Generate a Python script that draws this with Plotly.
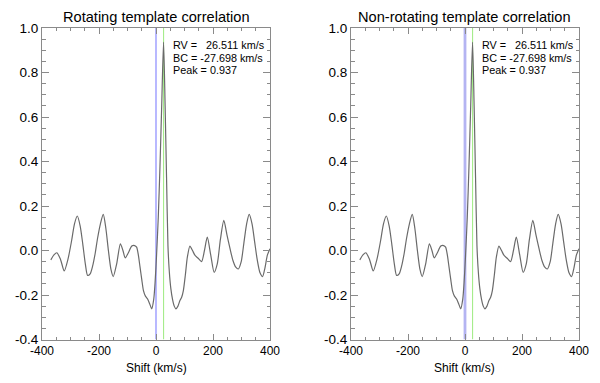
import plotly.graph_objects as go

# ---- data ----
shift_kms = [-369, -358, -348, -335, -322, -309, -296, -286, -276, -266, -257, -248, -240, -231,
             -222, -213, -205, -195, -185, -176, -167, -158, -150, -138, -125, -116, -108, -97,
             -85, -75, -68, -62, -56, -50, -44, -37, -30, -22, -15, -8, -3, 2, 8, 14, 20, 26.5,
             32, 37, 42, 47, 52, 58, 64, 70, 77, 84, 90, 96, 103, 110, 119, 128, 137, 148, 160,
             170, 180, 192, 204, 215, 226, 238, 249, 260, 270, 280, 289, 299, 308, 318, 327, 337,
             346, 355, 365, 374, 382, 391, 400]
corr_rot = [-0.042, -0.02, -0.01, -0.04, -0.092, -0.04, 0.045, 0.12, 0.155, 0.11, 0.03, -0.06,
            -0.112, -0.105, -0.068, -0.01, 0.055, 0.12, 0.162, 0.1, 0.0, -0.085, -0.117, -0.06,
            0.03, 0.0, -0.033, -0.01, 0.02, 0.022, 0.015, -0.02, -0.075, -0.13, -0.18, -0.205,
            -0.217, -0.24, -0.262, -0.22, -0.14, -0.02, 0.15, 0.38, 0.65, 0.937, 0.65, 0.33, 0.02,
            -0.1, -0.17, -0.22, -0.25, -0.262, -0.25, -0.225, -0.21, -0.18, -0.11, -0.03, 0.02,
            0.0, -0.022, -0.035, -0.05, 0.0, 0.06, -0.02, -0.098, -0.06, 0.05, 0.135, 0.07, 0.007,
            -0.045, -0.075, -0.083, -0.05, 0.03, 0.12, 0.162, 0.12, 0.04, -0.04, -0.1, -0.117,
            -0.08, -0.02, 0.008]
corr_nonrot = list(corr_rot)

titles = ["Rotating template correlation", "Non-rotating template correlation"]
rv_value = 26.511
bc_value = -27.698
peak_value = 0.937
zero_shift = 0.0

x_tickvals = [-400, -200, 0, 200, 400]
x_ticktext = ["-400", "-200", "0", "200", "400"]
y_tickvals = [-0.4, -0.2, 0.0, 0.2, 0.4, 0.6, 0.8, 1.0]
y_ticktext = ["-0.4", "-0.2", "0.0", "0.2", "0.4", "0.6", "0.8", "1.0"]

# ---- figure ----
W, H = 600, 383
FONT = "Liberation Sans, Arial, Helvetica, sans-serif"
AXC = "#8a8a8a"

fig = go.Figure()

xdomains = [[42 / W, 270 / W], [351 / W, 579 / W]]
ydomain = [1 - 339.5 / H, 1 - 28 / H]
blue_widths = [1.1, 2.8]
blue_colors = ["#7f7fff", "#b4b4f2"]
series = [corr_rot, corr_nonrot]

for i in range(2):
    xa = "x" if i == 0 else "x2"
    ya = "y" if i == 0 else "y2"
    # vertical reference lines
    fig.add_trace(go.Scatter(x=[zero_shift, zero_shift], y=[-0.4, 1.0], mode="lines",
                             line=dict(color=blue_colors[i], width=blue_widths[i]),
                             xaxis=xa, yaxis=ya, showlegend=False, hoverinfo="skip"))
    fig.add_trace(go.Scatter(x=[rv_value, rv_value], y=[-0.4, 1.0], mode="lines",
                             line=dict(color="#a6ec8c", width=1.1),
                             xaxis=xa, yaxis=ya, showlegend=False, hoverinfo="skip"))
    fig.add_trace(go.Scatter(x=shift_kms, y=series[i], mode="lines",
                             line=dict(color="#6a6a6a", width=1.2, shape="spline", smoothing=0.7),
                             xaxis=xa, yaxis=ya, showlegend=False))

    axkw_common = dict(showline=True, linecolor=AXC, linewidth=1, mirror="ticks",
                       ticks="inside", tickcolor=AXC, showgrid=False, zeroline=False,
                       automargin=False)
    fig.layout["xaxis" if i == 0 else "xaxis2"] = dict(
        domain=xdomains[i], range=[-400, 400], anchor=ya,
        tickmode="array", tickvals=x_tickvals, ticktext=x_ticktext, ticklen=6,
        tickfont=dict(family=FONT, size=12, color="black"),
        minor=dict(dtick=50, tick0=-400, ticklen=3, ticks="inside", tickcolor=AXC),
        **axkw_common)
    fig.layout["yaxis" if i == 0 else "yaxis2"] = dict(
        domain=ydomain, range=[-0.4, 1.0], anchor=xa,
        tickmode="array", tickvals=y_tickvals, ticktext=y_ticktext, ticklen=7,
        tickfont=dict(family=FONT, size=13.5, color="black"),
        minor=dict(dtick=0.05, tick0=-0.4, ticklen=3.5, ticks="inside", tickcolor=AXC),
        **axkw_common)

    # title
    cx = (xdomains[i][0] + xdomains[i][1]) / 2
    fig.add_annotation(text=titles[i], xref="paper", yref="paper", x=cx, y=1 - 17.5 / H,
                       xanchor="center", yanchor="middle", showarrow=False,
                       font=dict(family=FONT, size=14.6, color="black"))
    # axis title
    fig.add_annotation(text="Shift (km/s)", xref="paper", yref="paper", x=cx, y=1 - 368 / H,
                       xanchor="center", yanchor="middle", showarrow=False,
                       font=dict(family=FONT, size=12, color="black"))
    # info text
    lines = ["RV =\u00a0\u00a0\u00a0%.3f km/s" % rv_value,
             "BC = %.3f km/s" % bc_value,
             "Peak = %.3f" % peak_value]
    ys = [45, 58.3, 70]
    for t, yp in zip(lines, ys):
        fig.add_annotation(text=t, xref=xa, yref="paper", x=52.6, y=1 - yp / H,
                           xanchor="left", yanchor="middle", showarrow=False,
                           font=dict(family=FONT, size=10.8, color="black"))

fig.update_layout(template="none", width=W, height=H, margin=dict(l=0, r=0, t=0, b=0, pad=0),
                  paper_bgcolor="white", plot_bgcolor="white", showlegend=False)

fig.write_html("out.html", config={"displayModeBar": False},
               post_script="document.body.style.margin='0px';document.body.style.overflow='hidden';")
